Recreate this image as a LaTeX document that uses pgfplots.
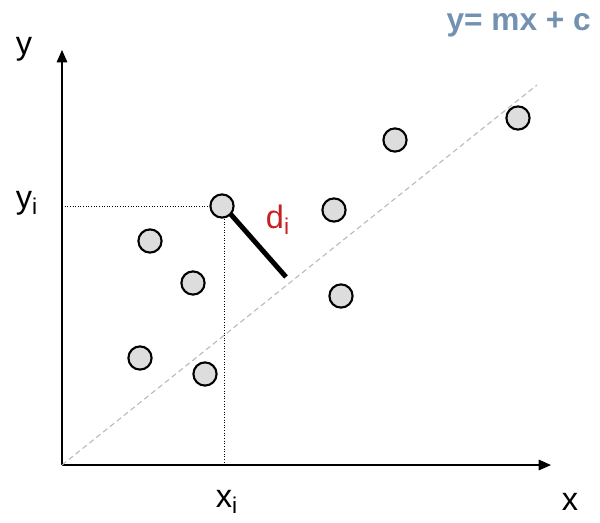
\documentclass[border=0pt]{standalone}
\usepackage{pgfplots}
\pgfplotsset{compat=1.18}
\usepackage{fontspec}
\setmainfont{Liberation Sans}
\usetikzlibrary{arrows.meta}
\definecolor{ptfill}{HTML}{DDDDDD}
\definecolor{linecol}{HTML}{AEB8C2}
\definecolor{eqcol}{HTML}{7391B0}
\definecolor{dred}{HTML}{C8201E}
\begin{document}
\begin{tikzpicture}
\begin{axis}[
  width=12cm, height=10.44cm, scale only axis,
  xmin=0, xmax=600, ymin=0, ymax=522,
  hide axis, clip=false,
]
\path (rel axis cs:0,0) rectangle (rel axis cs:1,1);
% axes
\addplot[black, line width=0.8pt, -{Triangle[length=7pt,width=6pt]}] coordinates {(62,57) (62,472)};
\addplot[black, line width=0.8pt, -{Triangle[length=7pt,width=6pt]}] coordinates {(62,57) (551,57)};
% fitted line
\addplot[linecol, line width=0.6pt, dash pattern=on 3pt off 2pt] coordinates {(62,57) (537,437)};
% dotted guides
\addplot[black, line width=0.5pt, densely dotted] coordinates {(62,316) (222,316)};
\addplot[black, line width=0.5pt, densely dotted] coordinates {(224,316) (224,57)};
% distance
\addplot[black, line width=2.8pt] coordinates {(227,312) (286,245)};
% points
\addplot[only marks, mark=*, mark size=6.6pt, mark options={fill=ptfill, draw=black, line width=1.2pt}] coordinates {
(150,281) (193,239) (140,164) (205,148) (222,316) (334,312) (341,226) (395,382) (518,404)};
% labels
\node[font=\fontsize{18.5}{20}\selectfont] at (axis cs:24,473) {y};
\node[font=\fontsize{18.5}{20}\selectfont] at (axis cs:27,319) {y\textsubscript{i}};
\node[font=\fontsize{18.5}{20}\selectfont, text=dred] at (axis cs:278,302) {d\textsubscript{i}};
\node[font=\fontsize{18.5}{20}\selectfont] at (axis cs:227,20) {x\textsubscript{i}};
\node[font=\fontsize{18.5}{20}\selectfont] at (axis cs:570,20) {x};
\node[font=\bfseries\fontsize{18}{20}\selectfont, text=eqcol, anchor=east] at (axis cs:597,497) {y= mx + c};
\end{axis}
\end{tikzpicture}
\end{document}
